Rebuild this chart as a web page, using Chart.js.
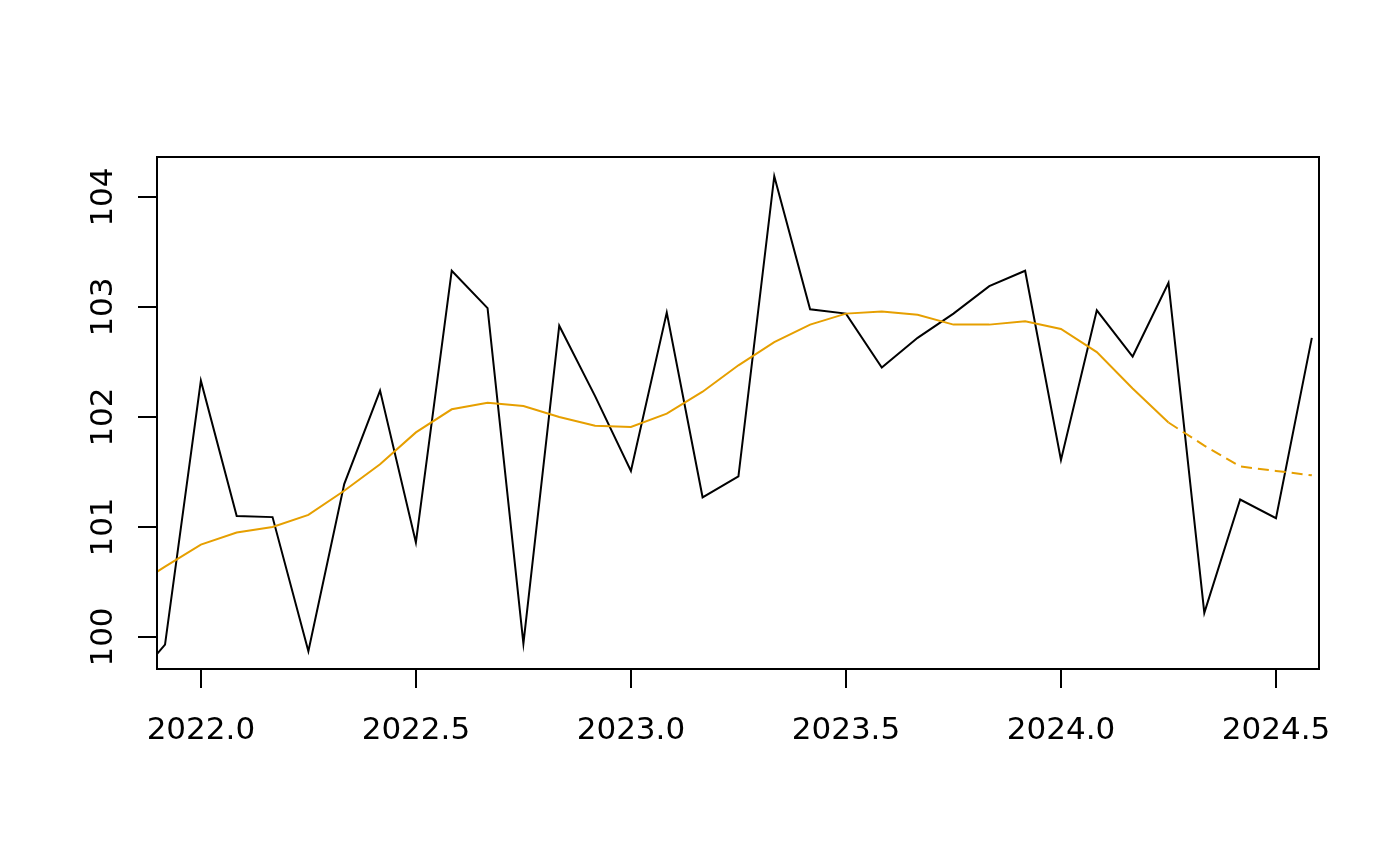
<!DOCTYPE html>
<html>
<head>
<meta charset="utf-8">
<script src="https://cdn.jsdelivr.net/npm/chart.js@4.4.1/dist/chart.umd.min.js"></script>
<style>
  html, body { margin: 0; padding: 0; background: #ffffff; }
  #wrap { width: 1400px; height: 866px; }
</style>
</head>
<body>
<div id="wrap"><canvas id="c" width="1400" height="866"></canvas></div>
<script>
// ---- data (monthly series, ts-style time: start year + (month-1)/12) ----
const startYear = 2021;
const startMonth = 11;
const seriesValues = [
  99.55, 99.93,
  102.33, 101.10, 101.09, 99.87, 101.39, 102.24, 100.86, 103.33, 102.99, 99.94, 102.83, 102.19,
  101.51, 102.95, 101.27, 101.46, 104.19, 102.98, 102.94, 102.45, 102.72, 102.94, 103.19, 103.33,
  101.61, 102.97, 102.55, 103.22, 100.22, 101.25, 101.08, 102.72
];
const trendValues = [
  100.43, 100.64,
  100.84, 100.95, 101.00, 101.11, 101.33, 101.57, 101.86, 102.07, 102.13, 102.10, 102.00, 101.92,
  101.91, 102.03, 102.23, 102.47, 102.68, 102.84, 102.94, 102.96, 102.93, 102.84, 102.84, 102.87,
  102.80, 102.59, 102.26, 101.95, 101.74, 101.55, 101.51, 101.47
];
const trendDashFromIndex = 29; // segments from Apr 2024 onward are dashed
const xTicks = [2022.0, 2022.5, 2023.0, 2023.5, 2024.0, 2024.5];
const yTicks = [100, 101, 102, 103, 104];
const xRange = [2021.898, 2024.600];
const yRange = [99.709, 104.364];

const times = seriesValues.map((_, i) => startYear + (startMonth - 1 + i) / 12);
const seriesPts = seriesValues.map((v, i) => ({ x: times[i], y: v }));
const trendPts = trendValues.map((v, i) => ({ x: times[i], y: v }));

const FONT = '"DejaVu Sans", "Liberation Sans", sans-serif';
const LW = 2;

const boxAndLabels = {
  id: 'boxAndLabels',
  afterDraw(chart) {
    const ctx = chart.ctx;
    const a = chart.chartArea;
    ctx.save();
    ctx.strokeStyle = '#000';
    ctx.lineWidth = LW;
    ctx.strokeRect(a.left, a.top, a.right - a.left, a.bottom - a.top);
    ctx.fillStyle = '#000';
    ctx.font = '31px ' + FONT;
    ctx.textAlign = 'center';
    ctx.textBaseline = 'alphabetic';
    const xs = chart.scales.x;
    xTicks.forEach(v => {
      ctx.fillText(v.toFixed(1), xs.getPixelForValue(v), 739);
    });
    const ys = chart.scales.y;
    yTicks.forEach(v => {
      const py = ys.getPixelForValue(v);
      ctx.save();
      ctx.translate(112, py);
      ctx.rotate(-Math.PI / 2);
      ctx.fillText(String(v), 0, 0);
      ctx.restore();
    });
    ctx.restore();
  }
};

new Chart(document.getElementById('c'), {
  type: 'line',
  data: {
    datasets: [
      {
        data: seriesPts,
        borderColor: '#000000',
        borderWidth: LW,
        pointRadius: 0,
        tension: 0,
        fill: false,
        order: 2
      },
      {
        data: trendPts,
        borderColor: '#E69F00',
        borderWidth: LW,
        pointRadius: 0,
        tension: 0,
        fill: false,
        order: 1,
        segment: {
          borderDash: ctx => ctx.p0DataIndex >= trendDashFromIndex ? [11, 6] : undefined
        }
      }
    ]
  },
  options: {
    responsive: false,
    animation: false,
    devicePixelRatio: 1,
    layout: { padding: { top: 157, right: 81, left: 0, bottom: 0 } },
    plugins: { legend: { display: false }, tooltip: { enabled: false } },
    scales: {
      x: {
        type: 'linear',
        min: xRange[0],
        max: xRange[1],
        afterBuildTicks: s => { s.ticks = xTicks.map(v => ({ value: v })); },
        afterFit: s => { s.height = 197; },
        grid: { display: true, drawOnChartArea: false, drawTicks: true, tickLength: 19, color: '#000', lineWidth: LW },
        border: { display: false },
        ticks: { display: false }
      },
      y: {
        type: 'linear',
        min: yRange[0],
        max: yRange[1],
        afterBuildTicks: s => { s.ticks = yTicks.map(v => ({ value: v })); },
        afterFit: s => { s.width = 157; },
        grid: { display: true, drawOnChartArea: false, drawTicks: true, tickLength: 19, color: '#000', lineWidth: LW },
        border: { display: false },
        ticks: { display: false }
      }
    }
  },
  plugins: [boxAndLabels]
});
</script>
</body>
</html>
